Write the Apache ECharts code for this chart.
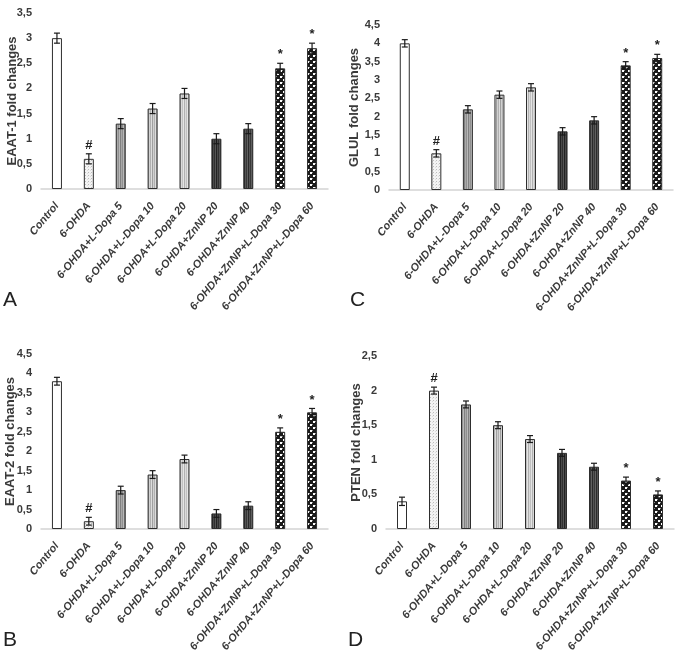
<!DOCTYPE html>
<html>
<head>
<meta charset="utf-8">
<script src="https://cdn.jsdelivr.net/npm/echarts@6/dist/echarts.min.js"></script>
<style>html,body{margin:0;padding:0;background:#fff}#c{width:685px;height:652px}</style>
</head>
<body>
<div id="c"></div>
<script>
// ---- data ----
const categories = ["Control","6-OHDA","6-OHDA+L-Dopa 5","6-OHDA+L-Dopa 10","6-OHDA+L-Dopa 20","6-OHDA+ZnNP 20","6-OHDA+ZnNP 40","6-OHDA+ZnNP+L-Dopa 30","6-OHDA+ZnNP+L-Dopa 60"];
const eaat1Values = [3.0, 0.6, 1.3, 1.6, 1.9, 1.0, 1.2, 2.4, 2.8];
const eaat1Errors = [0.1, 0.1, 0.1, 0.1, 0.1, 0.1, 0.1, 0.1, 0.1];
const glulValues = [4.0, 1.0, 2.2, 2.6, 2.8, 1.6, 1.9, 3.4, 3.6];
const glulErrors = [0.1, 0.1, 0.1, 0.1, 0.1, 0.1, 0.1, 0.1, 0.1];
const eaat2Values = [3.8, 0.2, 1.0, 1.4, 1.8, 0.4, 0.6, 2.5, 3.0];
const eaat2Errors = [0.1, 0.1, 0.1, 0.1, 0.1, 0.1, 0.1, 0.1, 0.1];
const ptenValues = [0.4, 2.0, 1.8, 1.5, 1.3, 1.1, 0.9, 0.7, 0.5];
const ptenErrors = [0.06, 0.05, 0.05, 0.05, 0.05, 0.05, 0.05, 0.05, 0.05];
const significance = ["", "#", "", "", "", "", "", "*", "*"];
const panelTitles = ["EAAT-1 fold changes", "GLUL fold changes", "EAAT-2 fold changes", "PTEN fold changes"];
const panelLetters = ["A", "C", "B", "D"];
const yMax = [3.5, 4.5, 4.5, 2.5];

// ---- patterns ----
function pat(w, h, draw) {
  const c = document.createElement('canvas');
  c.width = w; c.height = h;
  const g = c.getContext('2d');
  draw(g);
  return { image: c, repeat: 'repeat' };
}
function cols(colors) {
  return pat(colors.length, 2, g => { colors.forEach((col, i) => { g.fillStyle = col; g.fillRect(i, 0, 1, 2); }); });
}
const fills = [
  '#ffffff',
  pat(3, 3, g => { g.fillStyle = '#f3f3f3'; g.fillRect(0,0,3,3); g.fillStyle = '#bdbdbd'; g.fillRect(1,1,1,1); g.fillStyle='#dedede'; g.fillRect(0,2,1,1); }),
  cols(['#808080','#a8a8a8','#909090','#b8b8b8']),
  cols(['#a0a0a0','#d0d0d0','#b0b0b0','#dcdcdc']),
  cols(['#b0b0b0','#dadada','#c0c0c0','#e4e4e4']),
  cols(['#222222','#4a4a4a','#303030','#555555']),
  cols(['#2a2a2a','#555555','#383838','#606060']),
  pat(6, 6, g => { g.fillStyle = '#1a1a1a'; g.fillRect(0,0,6,6); g.fillStyle = '#ffffff'; g.fillRect(1,1,2,2); g.fillRect(4,4,2,2); g.fillStyle='#888'; g.fillRect(0,4,1,1); g.fillRect(3,1,1,1); }),
  null
];
fills[8] = fills[7];

const grids = [
  { left: 41, top: 13, width: 287, height: 176, outerBoundsMode: 'none', containLabel: false },
  { left: 389, top: 25, width: 284, height: 165, outerBoundsMode: 'none', containLabel: false },
  { left: 41, top: 354, width: 287, height: 175, outerBoundsMode: 'none', containLabel: false },
  { left: 386, top: 356, width: 288, height: 173, outerBoundsMode: 'none', containLabel: false }
];
const nameGaps = [22, 28, 24, 23];
const valueSets = [eaat1Values, glulValues, eaat2Values, ptenValues];
const errorSets = [eaat1Errors, glulErrors, eaat2Errors, ptenErrors];

const labelColor = '#3a3a3a';
const narrow = "'Liberation Sans Narrow', 'Liberation Sans', sans-serif";
const xAxis = [], yAxis = [], series = [];
for (let p = 0; p < 4; p++) {
  xAxis.push({
    type: 'category', gridIndex: p, data: categories,
    axisLine: { lineStyle: { color: '#d4d4d4', width: 1.5 } },
    axisTick: { show: false },
    axisLabel: { rotate: 50, interval: 0, margin: 15, color: labelColor, fontSize: 11, fontStyle: 'italic', fontWeight: 'bold', fontFamily: narrow }
  });
  yAxis.push({
    type: 'value', gridIndex: p, min: 0, max: yMax[p], interval: 0.5,
    name: panelTitles[p], nameLocation: 'middle', nameGap: nameGaps[p], nameRotate: 90,
    nameMoveOverlap: false,
    nameTextStyle: { color: labelColor, fontSize: 13, fontWeight: 'bold', fontFamily: 'Liberation Sans' },
    axisLine: { show: false }, axisTick: { show: false }, splitLine: { show: false },
    axisLabel: { margin: 9, color: labelColor, fontSize: 11, fontWeight: 'bold', fontFamily: narrow,
      formatter: v => String(v).replace('.', ',') }
  });
  series.push({
    type: 'bar', xAxisIndex: p, yAxisIndex: p, barWidth: 10,
    data: valueSets[p].map((v, i) => ({ value: v, itemStyle: { color: fills[i] } })),
    itemStyle: { borderColor: '#2e2e2e', borderWidth: 1 },
    animation: false
  });
  series.push({
    type: 'custom', xAxisIndex: p, yAxisIndex: p,
    data: valueSets[p].map((v, i) => [i, v, errorSets[p][i], significance[i]]),
    renderItem: (params, api) => {
      const i = api.value(0), v = api.value(1), e = api.value(2);
      const top = api.coord([i, v + e]);
      const bot = api.coord([i, v - e]);
      const cap = 3;
      const st = { stroke: '#1a1a1a', lineWidth: 1.2 };
      const children = [
        { type: 'line', shape: { x1: top[0], y1: top[1], x2: bot[0], y2: bot[1] }, style: st },
        { type: 'line', shape: { x1: top[0]-cap, y1: top[1], x2: top[0]+cap, y2: top[1] }, style: st },
        { type: 'line', shape: { x1: bot[0]-cap, y1: bot[1], x2: bot[0]+cap, y2: bot[1] }, style: st }
      ];
      const mark = significance[i];
      if (mark) {
        children.push({ type: 'text', x: top[0], y: top[1] - 2,
          style: { text: mark, align: 'center', verticalAlign: 'bottom', fill: '#222', fontSize: 13, fontWeight: 'bold', fontFamily: 'Liberation Sans' } });
      }
      return { type: 'group', children };
    },
    z: 5, animation: false
  });
}

const letterPos = [[3, 290], [350, 290], [3, 630], [348, 630]];
const graphic = panelLetters.map((t, k) => ({
  type: 'text', left: letterPos[k][0], top: letterPos[k][1],
  style: { text: t, fill: '#222', fontSize: 21, fontFamily: 'Liberation Sans' }
}));

const chart = echarts.init(document.getElementById('c'), null, { renderer: 'canvas' });
chart.setOption({
  backgroundColor: '#fff',
  animation: false,
  grid: grids,
  xAxis, yAxis, series, graphic
});
</script>
</body>
</html>
